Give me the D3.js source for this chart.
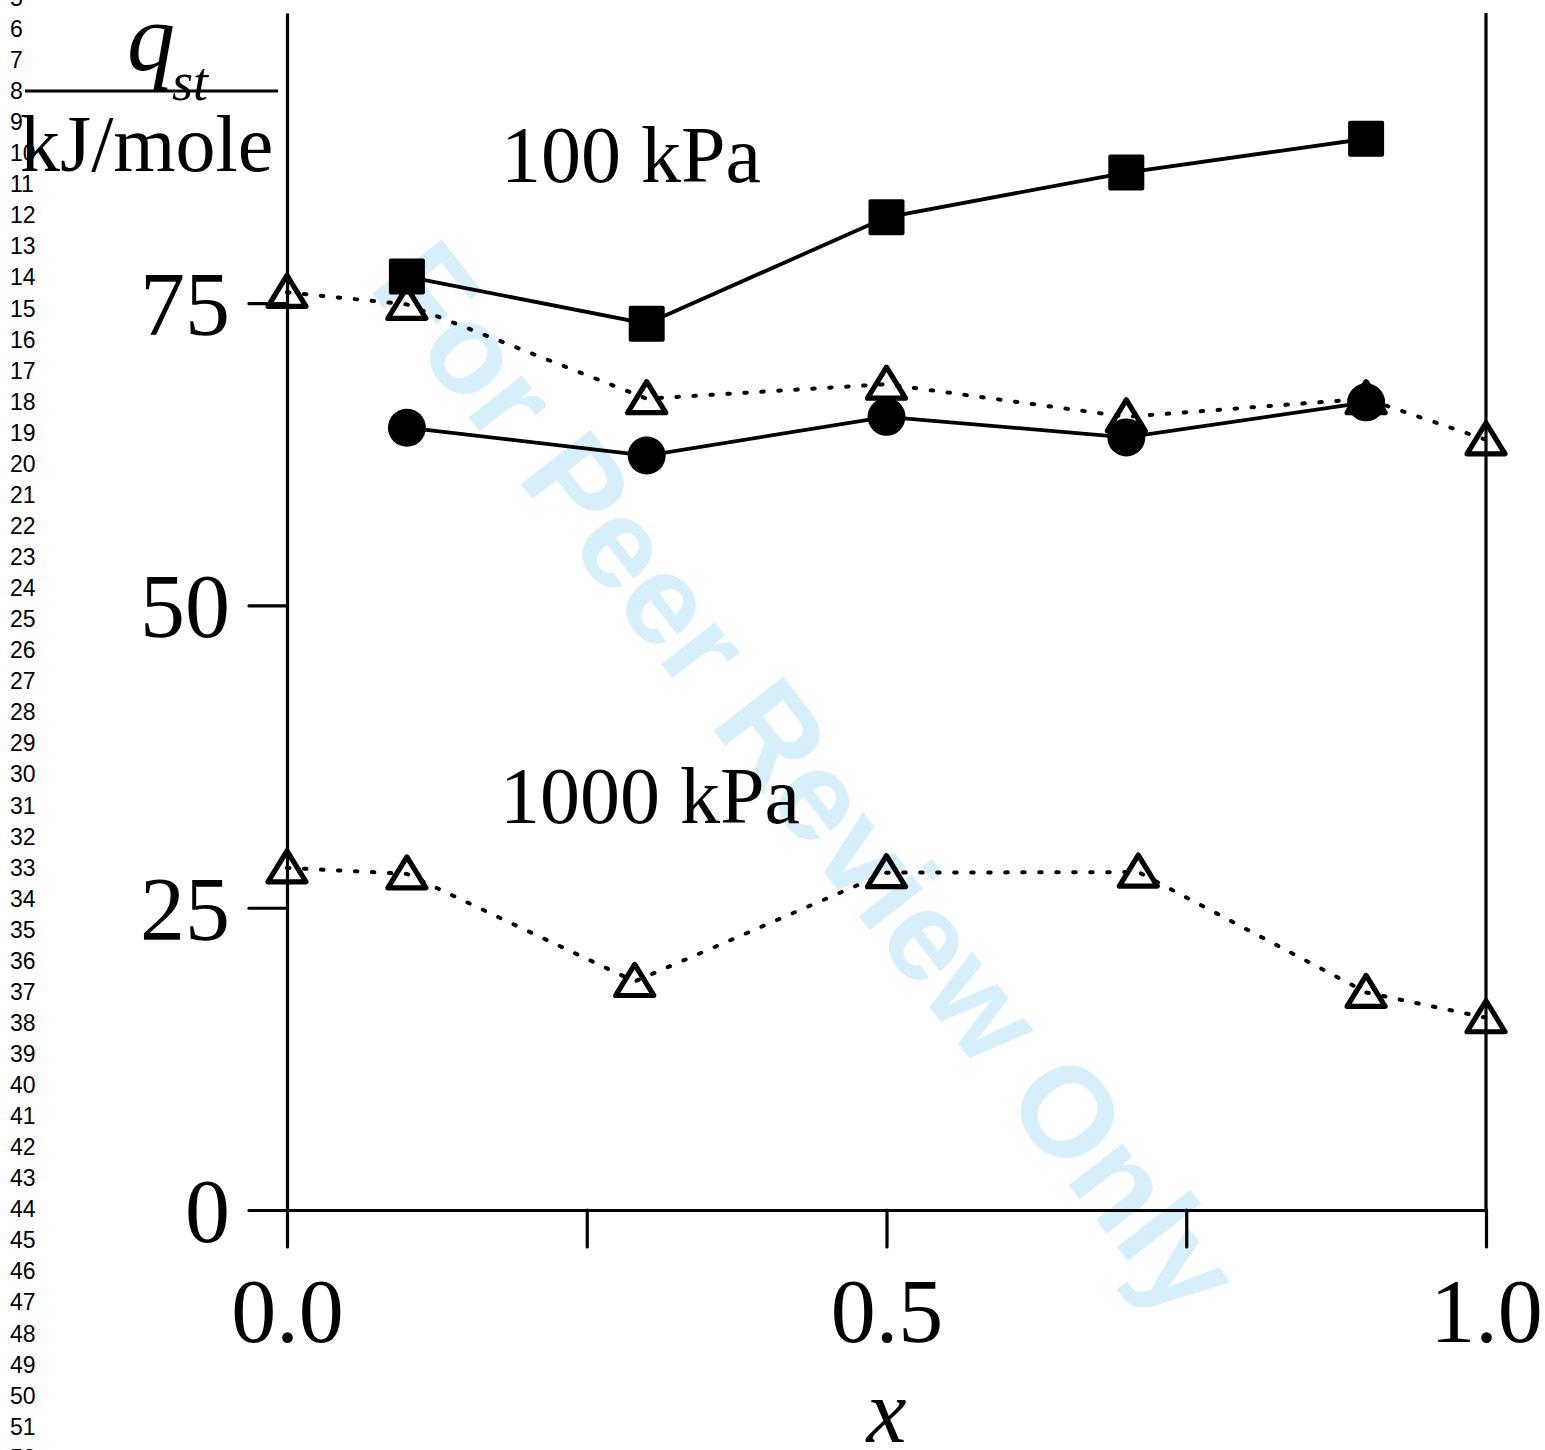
<!DOCTYPE html>
<html>
<head>
<meta charset="utf-8">
<script src="https://cdn.jsdelivr.net/npm/d3@7"></script>
<style>
    body { margin: 0; background: #fff; }
    svg { display: block; }
    .serif { font-family: "Liberation Serif", "Times New Roman", serif; fill: #000; }
    .lineno { font-family: "Liberation Sans", Arial, sans-serif; font-size: 23px; fill: #000; }
</style>
</head>
<body>
<svg id="chart"></svg>
<script>
// x positions of the 100 kPa filled series
const xFilled = [0.1, 0.3, 0.5, 0.7, 0.9];
const squares100 = [77.2, 73.3, 82.1, 85.8, 88.6];
const circles100 = [64.7, 62.4, 65.6, 63.9, 66.8];

// open triangles, dotted
const xTri100 = [0, 0.1, 0.3, 0.5, 0.7, 0.9, 1.0];
const tri100 = [75.9, 74.9, 67.1, 68.3, 65.6, 67.1, 63.7];
const xTri1000 = [0, 0.1, 0.29, 0.5, 0.71, 0.9, 1.0];
const tri1000 = [28.3, 27.8, 18.9, 27.9, 27.95, 18.0, 15.9];

const yTicks = [0, 25, 50, 75];
const xTicks = [0, 0.25, 0.5, 0.75, 1.0];
const xTickLabels = ['0.0', '', '0.5', '', '1.0'];
const lineNumbers = d3.range(5, 53);

const width = 1545, height = 1450;

const svg = d3.select('#chart')
    .attr('width', width)
    .attr('height', height);

svg.append('rect').attr('width', width).attr('height', height).attr('fill', '#fff');

const x = d3.scaleLinear().domain([0, 1]).range([287, 1486]);
const y = d3.scaleLinear().domain([0, 99]).range([1210, 13]);

// watermark
svg.append('text')
    .attr('transform', 'translate(367,287) rotate(52)')
    .attr('font-family', '"Liberation Sans", Arial, sans-serif')
    .attr('font-weight', 'bold')
    .attr('font-size', 128)
    .attr('fill', '#d6effb')
    .text('For Peer Review Only');

// manuscript line numbers
svg.append('g')
    .selectAll('text')
    .data(lineNumbers)
    .enter().append('text')
    .attr('class', 'lineno')
    .attr('x', 10)
    .attr('y', d => 37 + (d - 6) * 31.06)
    .text(d => d);

// axes
const yAxis = d3.axisLeft(y)
    .tickValues(yTicks)
    .tickSize(38)
    .tickSizeOuter(0)
    .tickPadding(19);

const yg = svg.append('g')
    .attr('transform', `translate(${x(0)},0)`)
    .call(yAxis);

const xAxis = d3.axisBottom(x)
    .tickValues(xTicks)
    .tickSize(37)
    .tickSizeOuter(0)
    .tickFormat((d, i) => xTickLabels[i]);

const xg = svg.append('g')
    .attr('transform', `translate(0,${y(0)})`)
    .call(xAxis);

[yg, xg].forEach(g => {
    g.selectAll('path.domain').attr('stroke', '#000').attr('stroke-width', 3.2);
    g.selectAll('.tick line').attr('stroke', '#000').attr('stroke-width', 3.2).attr('stroke-linecap', 'round');
    g.selectAll('.tick text')
        .attr('class', 'serif')
        .attr('font-family', '"Liberation Serif", "Times New Roman", serif')
        .attr('font-size', 90)
        .attr('fill', '#000');
});
yg.selectAll('.tick text').attr('dy', '0.35em');
xg.selectAll('.tick text').attr('y', 132).attr('dy', 0);

// right-hand vertical line
svg.append('line')
    .attr('x1', x(1)).attr('x2', x(1))
    .attr('y1', y(99)).attr('y2', y(0))
    .attr('stroke', '#000').attr('stroke-width', 3.2);

// series
const line = d3.line().x(d => x(d[0])).y(d => y(d[1]));

function drawDotted(xs, vals) {
    const pts = xs.map((v, i) => [v, vals[i]]);
    svg.append('path')
        .datum(pts)
        .attr('d', line)
        .attr('fill', 'none')
        .attr('stroke', '#000')
        .attr('stroke-width', 4)
        .attr('stroke-dasharray', '2.5,14.5')
        .attr('stroke-linecap', 'round');
    svg.append('g')
        .selectAll('path')
        .data(pts)
        .enter().append('path')
        .attr('transform', d => `translate(${x(d[0])},${y(d[1])})`)
        .attr('d', 'M0,-17L19,14L-19,14Z')
        .attr('fill', 'none')
        .attr('stroke', '#000')
        .attr('stroke-width', 5.2)
        .attr('stroke-linejoin', 'round');
}

function drawSolid(xs, vals) {
    const pts = xs.map((v, i) => [v, vals[i]]);
    svg.append('path')
        .datum(pts)
        .attr('d', line)
        .attr('fill', 'none')
        .attr('stroke', '#000')
        .attr('stroke-width', 3.8);
    return pts;
}

drawDotted(xTri100, tri100);
drawDotted(xTri1000, tri1000);

const sqPts = drawSolid(xFilled, squares100);
svg.append('g')
    .selectAll('rect')
    .data(sqPts)
    .enter().append('rect')
    .attr('x', d => x(d[0]) - 18)
    .attr('y', d => y(d[1]) - 18)
    .attr('width', 36)
    .attr('height', 36)
    .attr('rx', 2)
    .attr('fill', '#000');

const cPts = drawSolid(xFilled, circles100);
svg.append('g')
    .selectAll('circle')
    .data(cPts)
    .enter().append('circle')
    .attr('cx', d => x(d[0]))
    .attr('cy', d => y(d[1]))
    .attr('r', 19)
    .attr('fill', '#000');

// labels
svg.append('text').attr('class', 'serif')
    .attr('x', 501).attr('y', 182)
    .attr('font-size', 80)
    .text('100 kPa');

svg.append('text').attr('class', 'serif')
    .attr('x', 500).attr('y', 823)
    .attr('font-size', 80)
    .text('1000 kPa');

// y label as a fraction
svg.append('text').attr('class', 'serif')
    .attr('x', 127).attr('y', 70)
    .attr('font-size', 96)
    .attr('font-style', 'italic')
    .text('q');
svg.append('text').attr('class', 'serif')
    .attr('x', 172).attr('y', 100)
    .attr('font-size', 54)
    .attr('font-style', 'italic')
    .text('st');
svg.append('line')
    .attr('x1', 25).attr('x2', 278)
    .attr('y1', 91).attr('y2', 91)
    .attr('stroke', '#000').attr('stroke-width', 3.2);
svg.append('text').attr('class', 'serif')
    .attr('x', 20).attr('y', 171)
    .attr('font-size', 80)
    .text('kJ/mole');

// x label
svg.append('text').attr('class', 'serif')
    .attr('x', x(0.5)).attr('y', 1442)
    .attr('text-anchor', 'middle')
    .attr('font-size', 90)
    .attr('font-style', 'italic')
    .text('x');
</script>
</body>
</html>
